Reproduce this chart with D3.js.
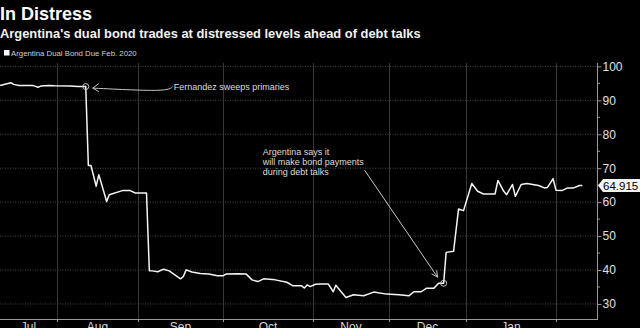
<!DOCTYPE html>
<html>
<head>
<meta charset="utf-8">
<script src="https://cdn.jsdelivr.net/npm/d3@7"></script>
<style>
  html, body { margin: 0; padding: 0; background: #000; }
  svg { display: block; }
  text { font-family: "Liberation Sans", Arial, sans-serif; }
</style>
</head>
<body>
<svg id="chart" width="640" height="328"></svg>
<script>
// ---------- DATA ----------
const title = "In Distress";
const subtitle = "Argentina's dual bond trades at distressed levels ahead of debt talks";
const seriesName = "Argentina Dual Bond Due Feb. 2020";
const lastValueLabel = "64.915";

const dates = [
  "2019-07-11","2019-07-15","2019-07-16","2019-07-18","2019-07-23","2019-07-25","2019-07-26","2019-07-29","2019-07-31",
  "2019-08-06","2019-08-09","2019-08-12","2019-08-13","2019-08-14","2019-08-16","2019-08-17","2019-08-20","2019-08-21",
  "2019-08-26","2019-08-29","2019-08-31","2019-09-04","2019-09-05","2019-09-06","2019-09-08","2019-09-10","2019-09-12",
  "2019-09-16","2019-09-17","2019-09-18","2019-09-20","2019-09-23","2019-09-26","2019-09-29","2019-10-01","2019-10-02",
  "2019-10-06","2019-10-09","2019-10-11","2019-10-13","2019-10-15","2019-10-19","2019-10-23","2019-10-25","2019-10-28",
  "2019-10-29","2019-10-30","2019-10-31","2019-11-02","2019-11-04","2019-11-07","2019-11-09","2019-11-10","2019-11-14",
  "2019-11-17","2019-11-21","2019-11-25","2019-11-30","2019-12-05","2019-12-09","2019-12-11","2019-12-14","2019-12-16",
  "2019-12-19","2019-12-21","2019-12-23","2019-12-24","2019-12-27","2019-12-29","2019-12-31","2020-01-03","2020-01-05",
  "2020-01-07","2020-01-11","2020-01-12","2020-01-14","2020-01-15","2020-01-17","2020-01-18","2020-01-20","2020-01-22",
  "2020-01-26","2020-01-28","2020-01-29","2020-01-31","2020-02-01","2020-02-03","2020-02-05","2020-02-07","2020-02-09",
  "2020-02-10"
];
const values = [
  94.4, 95.2, 94.7, 94.4, 94.4, 93.85, 94.2, 94.4, 94.3,
  94.2, 94.1, 94.05, 70.8, 70.8, 64.7, 68.1, 60.2, 62.2,
  63.4, 63.4, 62.7, 62.7, 39.8, 39.75, 39.5, 40.25, 39.75,
  37.4, 38.1, 40.05, 39.4, 39.0, 38.8, 38.3, 38.3, 38.8,
  38.9, 38.8, 37.1, 36.6, 37.4, 37.1, 36.4, 35.4, 35.4,
  34.7, 35.6, 35.1, 35.8, 35.9, 35.9, 33.6, 35.5, 31.9,
  32.7, 32.4, 33.5, 32.9, 32.7, 32.4, 33.6, 33.6, 34.6,
  34.6, 36.1, 36.1, 45.2, 45.5, 58.0, 57.5, 65.5, 63.2,
  62.4, 62.4, 66.4, 63.2, 62.2, 65.2, 61.7, 65.2, 65.5,
  64.9, 64.2, 64.3, 66.9, 63.5, 63.4, 64.2, 64.2, 64.9,
  64.915
];

const yTicks = [30, 40, 50, 60, 70, 80, 90, 100];
const yMinorTicks = [35, 45, 55, 65, 75, 85, 95];
const monthStarts = ["2019-07-01","2019-08-01","2019-09-01","2019-10-01","2019-11-01","2019-12-01","2020-01-01","2020-02-01","2020-02-15"];
const monthLabels = ["Jul","Aug","Sep","Oct","Nov","Dec","Jan"];

// annotations: anchored to data dates
const annotation1 = { date: "2019-08-12", text: ["Fernandez sweeps primaries"] };
const annotation2 = { date: "2019-12-23", text: ["Argentina says it", "will make bond payments", "during debt talks"] };

// ---------- LAYOUT ----------
const W = 640, H = 328;
const plot = { left: 0, right: 597, top: 63, bottom: 319 };
const parse = d3.timeParse("%Y-%m-%d");
const data = dates.map((d, i) => ({ date: parse(d), value: values[i] }));
const monthDates = monthStarts.map(parse);

const svg = d3.select("#chart");
svg.append("rect").attr("width", W).attr("height", H).attr("fill", "#000");

// piecewise time scale (Bloomberg spacing)
const x = d3.scaleTime()
  .domain(monthDates)
  .range([-27, 57, 138, 223, 313, 389, 466, 556, 597]);
const y = d3.scaleLinear().domain([25.57, 101]).range([plot.bottom, plot.top]);

// ---------- TITLES ----------
svg.append("text")
  .attr("x", 0).attr("y", 19.5)
  .attr("fill", "#fff").attr("font-size", 18).attr("font-weight", "bold")
  .text(title);
svg.append("text")
  .attr("x", 0).attr("y", 37.5)
  .attr("fill", "#f2f2f2").attr("font-size", 12.9).attr("font-weight", "bold")
  .text(subtitle);

// legend
svg.append("rect").attr("x", 4).attr("y", 50).attr("width", 5.5).attr("height", 5.5).attr("fill", "#fff");
svg.append("text")
  .attr("x", 11).attr("y", 56)
  .attr("fill", "#d0d0d0").attr("font-size", 7.8)
  .text(seriesName);

// ---------- GRID ----------
const grid = svg.append("g");
grid.selectAll(".hg").data(yTicks).join("line")
  .attr("x1", plot.left).attr("x2", plot.right)
  .attr("y1", d => y(d)).attr("y2", d => y(d))
  .attr("stroke", "#4a4a4a").attr("stroke-width", 1)
  .attr("stroke-dasharray", "1,1.5");
grid.selectAll(".vg").data(monthDates.slice(1, 8)).join("line")
  .attr("x1", d => Math.round(x(d)) + 0.5).attr("x2", d => Math.round(x(d)) + 0.5)
  .attr("y1", plot.top).attr("y2", plot.bottom)
  .attr("stroke", "#383838").attr("stroke-width", 1);

// ---------- AXES ----------
const axisColor = "#9a9a9a";
const xAxis = svg.append("g").attr("transform", `translate(0,${plot.bottom})`)
  .call(d3.axisBottom(x).tickValues(monthDates.slice(1, 8)).tickSize(3).tickFormat(""));
xAxis.select(".domain").remove();
xAxis.selectAll("line").attr("stroke", axisColor);
svg.append("line").attr("x1", plot.left).attr("x2", plot.right + 0.5)
  .attr("y1", plot.bottom + 0.5).attr("y2", plot.bottom + 0.5)
  .attr("stroke", axisColor).attr("stroke-width", 1);

// month labels centered in visible part of each month
svg.append("g").selectAll("text").data(monthLabels).join("text")
  .attr("x", (d, i) => {
    const a = Math.max(x(monthDates[i]), plot.left);
    const b = Math.min(x(monthDates[i + 1]), plot.right);
    return (a + b) / 2;
  })
  .attr("y", 330.5)
  .attr("text-anchor", "middle")
  .attr("fill", "#d8d8d8").attr("font-size", 12)
  .text(d => d);

const yAxis = svg.append("g").attr("transform", `translate(${plot.right + 0.5},0)`)
  .call(d3.axisRight(y).tickValues(yTicks).tickSize(4).tickPadding(1));
yAxis.attr("font-family", null);
yAxis.select(".domain").remove();
yAxis.selectAll("line").attr("stroke", axisColor);
yAxis.selectAll("text").attr("fill", "#e0e0e0").attr("font-size", 12);
svg.append("g").selectAll("line").data(yMinorTicks).join("line")
  .attr("x1", plot.right).attr("x2", plot.right + 3)
  .attr("y1", d => y(d)).attr("y2", d => y(d))
  .attr("stroke", axisColor);
svg.append("line").attr("x1", plot.right + 0.5).attr("x2", plot.right + 0.5)
  .attr("y1", plot.top).attr("y2", plot.bottom + 1)
  .attr("stroke", axisColor).attr("stroke-width", 1);

// ---------- LINE ----------
const line = d3.line().x(d => x(d.date)).y(d => y(d.value));
svg.append("path").datum(data)
  .attr("d", line)
  .attr("fill", "none").attr("stroke", "#f4f4f4")
  .attr("stroke-width", 1.5).attr("stroke-linejoin", "round");

// ---------- ANNOTATIONS ----------
const annColor = "#c8c8c8";
function pointOf(a) {
  const dt = parse(a.date);
  const p = data.find(d => +d.date === +dt);
  return [x(p.date), y(p.value)];
}
// annotation 1
{
  const [px, py] = pointOf(annotation1);
  svg.append("circle").attr("cx", px).attr("cy", py).attr("r", 3)
    .attr("fill", "none").attr("stroke", annColor).attr("stroke-width", 1);
  const tx = px + 88, ty = py + 3;
  svg.append("text").attr("x", tx).attr("y", ty)
    .attr("fill", "#dcdcdc").attr("font-size", 9).text(annotation1.text[0]);
  const p = d3.path();
  p.moveTo(tx - 1, py);
  p.bezierCurveTo(tx - 5, py + 5, tx - 20, py + 4.5, px + 7, py + 1.5);
  svg.append("path").attr("d", p.toString()).attr("fill", "none")
    .attr("stroke", annColor).attr("stroke-width", 1);
  svg.append("path")
    .attr("d", `M${px + 13},${py - 3} L${px + 7},${py + 1.5} L${px + 13},${py + 5}`)
    .attr("fill", "none").attr("stroke", annColor).attr("stroke-width", 1);
}
// annotation 2
{
  const [px, py] = pointOf(annotation2);
  svg.append("circle").attr("cx", px).attr("cy", py).attr("r", 3)
    .attr("fill", "none").attr("stroke", annColor).attr("stroke-width", 1);
  const tx = px - 181, ty0 = py - 128;
  svg.append("g").selectAll("text").data(annotation2.text).join("text")
    .attr("x", tx).attr("y", (d, i) => ty0 + i * 10)
    .attr("fill", "#dcdcdc").attr("font-size", 9).text(d => d);
  const sx = px - 79, sy = py - 113, ex = px - 6, ey = py - 6;
  svg.append("line").attr("x1", sx).attr("y1", sy).attr("x2", ex).attr("y2", ey)
    .attr("stroke", annColor).attr("stroke-width", 1);
  const ang = Math.atan2(ey - sy, ex - sx);
  const L = 7, spread = 0.45;
  const h1 = [ex - L * Math.cos(ang - spread), ey - L * Math.sin(ang - spread)];
  const h2 = [ex - L * Math.cos(ang + spread), ey - L * Math.sin(ang + spread)];
  svg.append("path").attr("d", `M${h1[0]},${h1[1]} L${ex},${ey} L${h2[0]},${h2[1]}`)
    .attr("fill", "none").attr("stroke", annColor).attr("stroke-width", 1);
}

// ---------- LAST VALUE TAG ----------
{
  const last = data[data.length - 1];
  const ty = y(last.value);
  const x0 = plot.right + 1, bw = 43, bh = 13;
  svg.append("path")
    .attr("d", `M${x0},${ty} L${x0 + 5},${ty - bh / 2} L${x0 + bw},${ty - bh / 2} L${x0 + bw},${ty + bh / 2} L${x0 + 5},${ty + bh / 2} Z`)
    .attr("fill", "#f4f4f4");
  svg.append("text")
    .attr("x", x0 + 5).attr("y", ty + 4.2)
    .attr("fill", "#000").attr("font-size", 11.5)
    .text(lastValueLabel);
}
</script>
</body>
</html>
